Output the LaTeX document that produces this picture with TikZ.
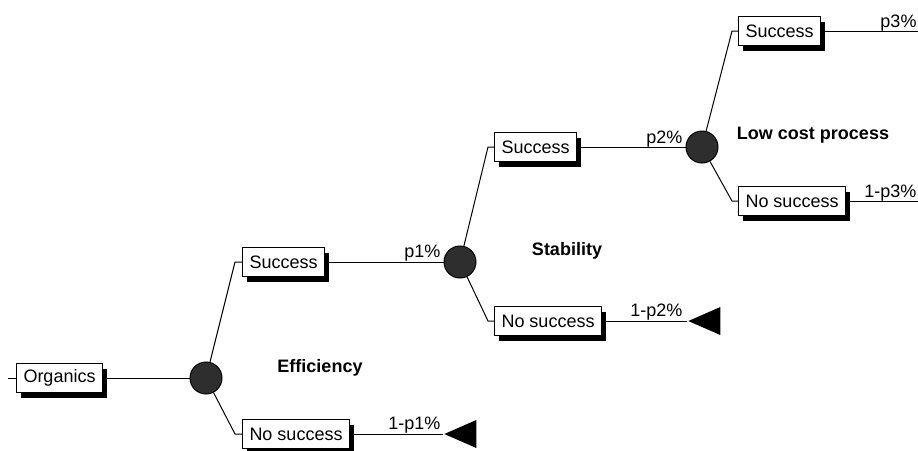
\documentclass[tikz,border=0pt]{standalone}
\usepackage{fontspec}
\setmainfont{Liberation Sans}
\usetikzlibrary{shapes.geometric,shadows}
\begin{document}
\begin{tikzpicture}[x=1pt,y=-1pt,line width=1pt,
  font=\fontsize{18}{20}\selectfont,
  box/.style={draw, fill=white, minimum height=29pt, inner xsep=7pt, inner ysep=2pt, anchor=west,
    drop shadow={shadow xshift=4pt, shadow yshift=-5pt, fill=black, opacity=1}},
  chance/.style={draw, circle, fill=black!82, minimum size=32pt, inner sep=0pt},
  leaf/.style={isosceles triangle, isosceles triangle stretches, shape border rotate=180,
    fill=black, minimum width=28pt, minimum height=32pt, inner sep=0pt, anchor=apex},
  prob/.style={anchor=base east, inner sep=0pt},
  crit/.style={font=\fontsize{18}{20}\selectfont\bfseries}]
\useasboundingbox (0,0) rectangle (918,450);

\coordinate (start) at (8,378);
\node[box] (org) at (16,378) {Organics};
\node[chance] (c1) at (206,378) {};
\path[draw] (start) -- (org);
\path[draw] (org) -- (c1);

\coordinate (b1) at (235,262);
\coordinate (b2) at (235,434);
\node[box] (s1) at (242,262) {Success};
\node[box] (n1) at (242,434) {No success};
\node[leaf] (t1) at (443,434) {};
\node[chance] (c2) at (460,262) {};
\path[draw] (c1) -- (b1) -- (s1);
\path[draw] (c1) -- (b2) -- (n1);
\path[draw] (s1) -- (c2);
\path[draw] (n1) -- (t1);
\node[prob] (p1) at (441,257) {p1\%};
\node[prob] (q1) at (441,429) {1-p1\%};
\node[crit] (lab1) at (320,368) {Efficiency};

\coordinate (b3) at (488,147);
\coordinate (b4) at (488,321);
\node[box] (s2) at (494,147) {Success};
\node[box] (n2) at (494,321) {No success};
\node[leaf] (t2) at (687,321) {};
\node[chance] (c3) at (702,147) {};
\path[draw] (c2) -- (b3) -- (s2);
\path[draw] (c2) -- (b4) -- (n2);
\path[draw] (s2) -- (c3);
\path[draw] (n2) -- (t2);
\node[prob] (p2) at (683,143) {p2\%};
\node[prob] (q2) at (683,316) {1-p2\%};
\node[crit] (lab2) at (567,251) {Stability};

\coordinate (b5) at (732,31);
\coordinate (b6) at (732,201);
\node[box] (s3) at (738,31) {Success};
\node[box] (n3) at (738,201) {No success};
\coordinate (e1) at (918,31);
\coordinate (e2) at (918,201);
\path[draw] (c3) -- (b5) -- (s3);
\path[draw] (c3) -- (b6) -- (n3);
\path[draw] (s3) -- (e1);
\path[draw] (n3) -- (e2);
\node[prob] (p3) at (917,27) {p3\%};
\node[prob] (q3) at (917,197) {1-p3\%};
\node[crit] (lab3) at (813,135) {Low cost process};
\end{tikzpicture}
\end{document}
